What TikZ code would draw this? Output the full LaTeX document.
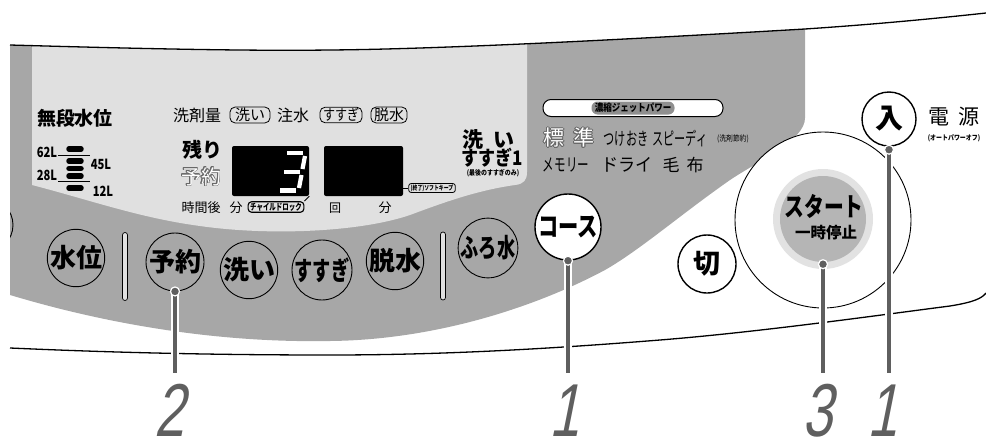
\documentclass[tikz,border=0pt]{standalone}
\usepackage{fontspec}
\setmainfont{Noto Sans CJK JP}
\newfontfamily\numfont{Liberation Sans}[FakeSlant=0.2,FakeStretch=0.72]
\usepackage[copies]{contour}
\contourlength{0.7pt}
\usetikzlibrary{positioning}
\definecolor{panelDark}{RGB}{167,167,167}
\definecolor{panelLight}{RGB}{224,224,224}
\definecolor{leadGray}{RGB}{95,95,95}
\definecolor{ringGray}{RGB}{226,226,226}
\definecolor{discGray}{RGB}{181,181,181}
\definecolor{jetGray}{RGB}{143,143,143}
\definecolor{hollowGray}{RGB}{105,105,105}
\newcommand{\narrow}[2]{\scalebox{#1}[1]{#2}}

\begin{document}
\begin{tikzpicture}[
    x=1pt, y=-1pt,
    btn/.style={circle, draw=black, line width=0.9pt, minimum size=55pt, inner sep=0pt, font=\fontsize{26}{26}\selectfont\bfseries},
    wbtn/.style={btn, fill=white, line width=1.4pt},
    lbl/.style={inner sep=0pt, font=\fontsize{16}{16}\selectfont},
    kana/.style={inner sep=0pt, font=\fontsize{18}{18}\selectfont},
    blbl/.style={inner sep=0pt, font=\fontsize{20}{20}\selectfont\bfseries},
    lvl/.style={inner sep=0pt, font=\fontsize{14}{14}\selectfont\bfseries},
    tiny/.style={inner sep=0pt, font=\fontsize{7}{7}\selectfont\bfseries},
    tag/.style={draw=black, line width=0.8pt, rounded corners=5pt, inner xsep=5pt, inner ysep=1pt, font=\fontsize{15}{15}\selectfont},
    smallbox/.style={draw=black, line width=1.1pt, rounded corners=3.5pt, inner xsep=2pt, inner ysep=1pt},
    screen/.style={fill=black, rounded corners=2pt, minimum height=50pt, inner sep=0pt},
    seg/.style={draw=white, line width=4.2pt},
    pill/.style={line width=5.5pt, line cap=round},
    sepbar/.style={draw=black, fill=panelLight, line width=0.7pt, rounded corners=2.5pt, minimum width=5pt, minimum height=68pt, inner sep=0pt},
    leader/.style={draw=leadGray, line width=3.5pt, preaction={draw=white, line width=7.5pt}},
    tipdot/.style={fill=leadGray, draw=white, line width=1.2pt},
    num/.style={inner sep=0pt, anchor=base, text=leadGray, font=\fontsize{75}{75}\numfont}
  ]
  \useasboundingbox (0,0) rectangle (986,442);

  % PANEL
  \fill[panelDark] (10,45) .. controls (150,49) and (250,51) .. (330,50)
    .. controls (450,49) and (650,38) .. (805,29) -- (805,118)
    .. controls (805,140) and (760,160) .. (730,180)
    .. controls (680,215) and (640,250) .. (605,270)
    .. controls (530,310) and (430,340) .. (330,341)
    .. controls (220,343) and (110,325) .. (10,295) -- cycle;
  \begin{scope}
    \clip (10,45) .. controls (150,49) and (250,51) .. (330,50)
      .. controls (450,49) and (650,38) .. (805,29) -- (805,350) -- (10,350) -- cycle;
    \fill[panelLight] (32,0) -- (32,185) .. controls (90,200) and (140,218) .. (200,226)
      .. controls (270,236) and (360,232) .. (410,215)
      .. controls (450,200) and (480,190) .. (515,185)
      .. controls (524,184) and (527,180) .. (527,172) -- (527,0) -- cycle;
    \draw[line width=0.9pt] (-14,225) circle (27);
  \end{scope}
  \draw[line width=1.3pt] (10,45) .. controls (150,49) and (250,51) .. (330,50)
    .. controls (450,49) and (650,38) .. (805,29) .. controls (880,24) and (940,18) .. (986,13);
  \draw[line width=1.3pt] (10,348) .. controls (100,352) and (200,355) .. (330,355)
    .. controls (450,355) and (560,348) .. (660,340)
    .. controls (760,332) and (880,315) .. (950,306)
    .. controls (975,302) and (982,298) .. (986,293);

  % WATER LEVEL
  \node[blbl, font=\fontsize{19}{19}\selectfont\bfseries] (mudan) at (75,118) {無段水位};
  \draw[pill] (69,149) -- (81,149);
  \draw[pill] (69,161) -- (81,161);
  \draw[pill] (69,168.5) -- (81,168.5);
  \draw[pill] (69,176) -- (81,176);
  \draw[pill] (69,188) -- (81,188);
  \draw[line width=0.6pt] (58,155) -- (90,155);
  \draw[line width=0.6pt] (58,181.5) -- (90,181.5);
  \node[lvl] (l62) at (47,152) {\narrow{0.8}{62L}};
  \node[lvl] (l28) at (47,175) {\narrow{0.8}{28L}};
  \node[lvl] (l45) at (101,164) {\narrow{0.8}{45L}};
  \node[lvl] (l12) at (103,191) {\narrow{0.8}{12L}};

  % DISPLAY
  \node[lbl] (senzai) at (197,115) {洗剤量};
  \node[tag] (tArai) at (250,115) {洗い};
  \node[lbl] (chusui) at (293,115) {注水};
  \node[tag, inner xsep=3pt] (tSusugi) at (341,115) {\narrow{0.8}{すすぎ}};
  \node[tag, inner xsep=3pt] (tDassui) at (389,115) {脱水};
  \node[blbl] (nokori) at (202,150) {残り};
  \node[lbl, font=\fontsize{20}{20}\selectfont, text=white] (yoyakuL) at (201,177) {\contour{hollowGray}{予約}};
  \node[screen, minimum width=77pt] (disp1) at (270.5,171) {};
  \node[screen, minimum width=79pt] (disp2) at (363.5,171) {};
  \draw[seg] (287,153) -- (303,153);
  \draw[seg] (305,156) -- (302.5,169);
  \draw[seg] (284,172) -- (300,172);
  \draw[seg] (301.5,175) -- (299,188);
  \draw[seg] (280,190.5) -- (296,190.5);
  \node[lbl, font=\fontsize{13}{13}\selectfont] (jikango) at (201,208) {時間後};
  \node[lbl, font=\fontsize{13}{13}\selectfont] (fun1) at (236,208) {分};
  \node[smallbox, font=\fontsize{9}{9}\selectfont\bfseries] (lock) at (276,207) {\narrow{0.72}{チャイルドロック}};
  \node[lbl, font=\fontsize{12}{12}\selectfont] (kai) at (335,208) {回};
  \node[lbl, font=\fontsize{13}{13}\selectfont] (fun2) at (385,208) {分};
  \node[smallbox, line width=0.8pt, rounded corners=2.5pt, font=\fontsize{6.5}{6.5}\selectfont\bfseries] (keep) at (432,188) {\narrow{0.75}{(終了)ソフトキープ}};
  \draw[line width=0.9pt] (disp1.south east) -- (lock.north east);
  \draw[line width=0.8pt] (disp2.east |- keep.west) -- (keep.west);
  \node[blbl, font=\fontsize{21}{21}\selectfont\bfseries] (araiR) at (488,139) {洗\hspace{10pt}い};
  \node[blbl, font=\fontsize{20}{20}\selectfont\bfseries] (susugi1) at (492,158) {\narrow{0.85}{すすぎ1}};
  \node[tiny] (lastonly) at (493,173) {\narrow{0.85}{(最後のすすぎのみ)}};

  % COURSE
  \node[draw=black, fill=white, line width=1pt, rounded corners=8pt, minimum width=180pt, minimum height=17pt, inner sep=0pt] (jet) at (633,108) {};
  \node[fill=jetGray, rounded corners=6pt, minimum width=83pt, minimum height=13pt, inner sep=0pt, font=\fontsize{10}{10}\selectfont\bfseries] (jetin) at (633,108) {\narrow{0.85}{濃縮ジェットパワー}};
  \node[lbl, font=\fontsize{21}{21}\selectfont, text=white] (hyojun) at (569,138) {\contour{hollowGray}{標\hspace{9pt}準}};
  \node[kana] (tsuke) at (626,139) {\narrow{0.62}{つけおき}};
  \node[kana] (speedy) at (680,139) {\narrow{0.62}{スピーディ}};
  \node[lbl, font=\fontsize{8}{8}\selectfont] (setsuyaku) at (733,139) {\narrow{0.85}{(洗剤節約)}};
  \node[kana] (memory) at (566,165) {\narrow{0.64}{メモリー}};
  \node[kana] (dry) at (627,165) {\narrow{0.95}{ドライ}};
  \node[lbl, font=\fontsize{17}{17}\selectfont] (ke) at (671,165) {毛};
  \node[lbl, font=\fontsize{17}{17}\selectfont] (nuno) at (695,165) {布};

  % BUTTONS
  \node[btn] (suii) at (76,258) {水位};
  \node[sepbar] (sepA) at (125,266.5) {};
  \node[btn, minimum size=58pt] (yoyaku) at (175,262) {予約};
  \node[btn] (arai) at (249,270) {洗い};
  \node[btn, minimum size=56pt] (susugi) at (322,270) {\narrow{0.7}{すすぎ}};
  \node[btn, minimum size=56pt] (dassui) at (395,261) {脱水};
  \node[sepbar] (sepB) at (443,266) {};
  \node[btn] (furo) at (488,248) {\narrow{0.7}{ふろ水}};
  \node[wbtn, minimum size=66pt, font=\fontsize{27}{27}\selectfont\bfseries] (course) at (568,227) {\narrow{0.75}{コース}};
  \node[wbtn, minimum size=58pt, font=\fontsize{27}{27}\selectfont\bfseries] (kiru) at (707,264) {切};

  % START / POWER
  \node[circle, draw=black, fill=white, line width=0.9pt, minimum size=176pt] (startring) at (823,220) {};
  \node[circle, fill=ringGray, minimum size=100pt, inner sep=0pt] (startpad) at (823,219) {};
  \node[circle, fill=discGray, minimum size=86pt, inner sep=0pt] (start) at (823,219) {};
  \node[blbl, font=\fontsize{26}{26}\selectfont\bfseries] (startTxt) at (824,206) {\narrow{0.76}{スタート}};
  \node[blbl, font=\fontsize{15.5}{15.5}\selectfont\bfseries] (pauseTxt) at (826,233) {一時停止};
  \node[wbtn, minimum size=54pt, font=\fontsize{28}{28}\selectfont\bfseries] (power) at (889,119) {入};
  \node[lbl, font=\fontsize{21}{21}\selectfont] (dengen) at (954,117) {電\hspace{9pt}源};
  \node[tiny] (autooff) at (954,138) {\narrow{0.85}{(オートパワーオフ)}};

  % LEADERS
  \coordinate (foot2) at (175,373);
  \coordinate (foot1a) at (568,373);
  \coordinate (foot3) at (823,373);
  \coordinate (foot1b) at (889,373);
  \draw[leader] (yoyaku.south) -- (foot2);
  \draw[leader] (course.south) -- (foot1a);
  \draw[leader] ([yshift=-2pt]start.south) -- (foot3);
  \draw[leader] ([yshift=-3pt]power.south) -- (foot1b);
  \fill[tipdot] (yoyaku.south) circle (4.5);
  \fill[tipdot] (course.south) circle (4.5);
  \fill[tipdot] ([yshift=-2pt]start.south) circle (4.5);
  \fill[tipdot] ([yshift=-3pt]power.south) circle (4.5);

  \node[num] (n2) at (170,436) {2};
  \node[num] (n1a) at (565,436) {1};
  \node[num] (n3) at (818,436) {3};
  \node[num] (n1b) at (883,436) {1};
\end{tikzpicture}
\end{document}
